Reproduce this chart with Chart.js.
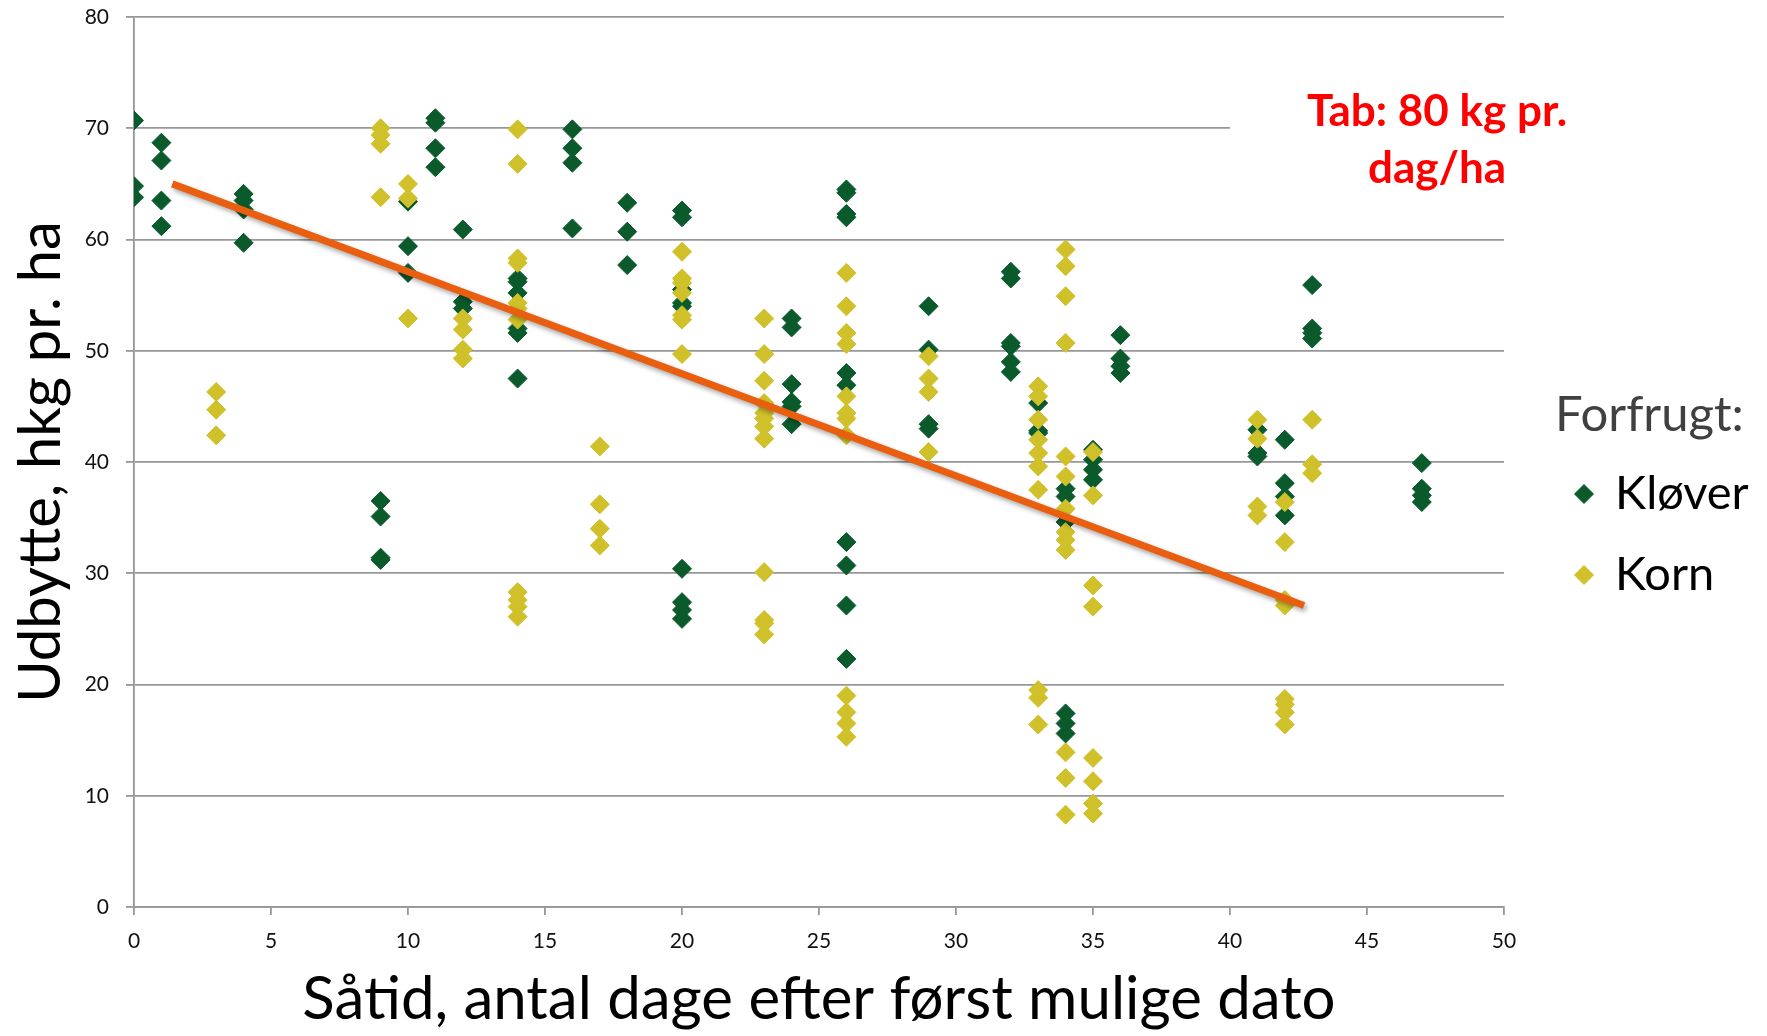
<!DOCTYPE html>
<html>
<head>
<meta charset="utf-8">
<script src="https://cdn.jsdelivr.net/npm/chart.js@4.4.0/dist/chart.umd.min.js"></script>
<style>
html, body { margin: 0; padding: 0; background: #ffffff; }
#wrap { width: 1767px; height: 1036px; position: relative; }
</style>
</head>
<body>
<div id="wrap"><canvas id="c" width="1767" height="1036"></canvas></div>
<script>
// ---------- DATA ----------
const seriesNames = ['Kløver', 'Korn'];

const kloverDays = [0, 1, 4, 9, 10, 11, 12, 14, 16, 18, 20, 24, 26, 29, 32, 33, 34, 35, 36, 41, 42, 43, 47];
const kloverYields = [
  [70.7, 64.8, 63.8],
  [68.7, 67.1, 63.5, 61.2],
  [64.1, 63.5, 62.7, 59.7],
  [36.5, 35.1, 31.4, 31.2],
  [63.4, 59.4, 57.0],
  [70.9, 70.5, 68.2, 66.5],
  [60.9, 54.4, 53.8],
  [56.5, 56.2, 55.2, 52.0, 51.6, 47.5],
  [69.9, 68.2, 66.9, 61.0],
  [63.3, 60.7, 57.7],
  [62.6, 62.0, 55.5, 54.3, 54.0, 30.4, 27.4, 26.7, 25.9],
  [52.9, 52.1, 47.0, 45.4, 45.0, 43.4],
  [64.5, 64.2, 62.3, 62.0, 48.0, 46.9, 32.8, 30.7, 27.1, 22.3],
  [54.0, 50.1, 43.4, 43.0],
  [57.1, 56.5, 50.7, 50.4, 49.0, 48.1],
  [45.3, 42.8, 42.6],
  [37.6, 36.9, 34.6, 17.4, 16.5, 15.6],
  [41.1, 40.2, 39.3, 38.4],
  [51.4, 49.3, 48.6, 48.0],
  [42.9, 40.8, 40.5],
  [42.0, 38.1, 36.9, 35.2],
  [55.9, 52.0, 51.6, 51.1],
  [39.9, 37.6, 37.0, 36.4]
];

const kornDays = [3, 9, 10, 12, 14, 17, 20, 23, 26, 29, 33, 34, 35, 41, 42, 43];
const kornYields = [
  [46.3, 44.7, 42.4],
  [70.0, 69.4, 68.6, 63.8],
  [65.0, 63.7, 52.9],
  [52.9, 51.9, 50.1, 49.3],
  [69.9, 66.8, 58.3, 57.9, 54.3, 53.8, 52.8, 28.3, 27.6, 27.0, 26.1],
  [41.4, 36.2, 34.0, 32.5],
  [58.9, 56.5, 56.1, 55.2, 53.2, 52.8, 49.7],
  [52.9, 49.7, 47.3, 45.3, 44.4, 43.9, 43.2, 42.1, 30.1, 25.8, 25.5, 24.5],
  [57.0, 54.0, 51.6, 50.6, 45.9, 44.4, 43.9, 42.4, 19.0, 17.5, 16.5, 15.3],
  [49.5, 47.5, 46.3, 40.9],
  [46.8, 45.9, 43.8, 42.0, 40.8, 39.6, 37.5, 19.5, 18.8, 16.4],
  [59.1, 57.6, 54.9, 50.7, 40.5, 38.7, 35.8, 33.7, 33.0, 32.1, 13.9, 11.6, 8.3],
  [40.9, 37.0, 28.9, 27.0, 13.4, 11.3, 9.3, 8.4],
  [43.8, 42.1, 36.0, 35.2],
  [36.4, 32.8, 27.6, 27.1, 18.7, 18.2, 17.5, 16.4],
  [43.8, 39.8, 39.0]
];

const trendDays = [1.4, 42.7];
const trendYields = [65.0, 27.1];

const xTickValues = [0, 5, 10, 15, 20, 25, 30, 35, 40, 45, 50];
const yTickValues = [0, 10, 20, 30, 40, 50, 60, 70, 80];

const xAxisTitle = 'Såtid, antal dage efter først mulige dato';
const yAxisTitle = 'Udbytte, hkg pr. ha';
const legendTitle = 'Forfrugt:';
const annotationLines = ['Tab: 80 kg pr.', 'dag/ha'];

// ---------- STYLE ----------
const GREEN = '#0a5a2c';
const YELLOW = '#d0c02a';
const ORANGE = '#e95e0f';
const GRID = '#979797';
const FONT = 'Lato';

function toPoints(days, yields) {
  const pts = [];
  days.forEach((d, i) => yields[i].forEach(v => pts.push({ x: d, y: v })));
  return pts;
}

Chart.defaults.font.family = FONT;

const trendShadow = {
  id: 'trendShadow',
  beforeDatasetDraw(chart, args) {
    if (args.index === 0) {
      const ctx = chart.ctx;
      ctx.save();
      ctx.shadowColor = 'rgba(0,0,0,0.35)';
      ctx.shadowBlur = 5;
      ctx.shadowOffsetX = 2;
      ctx.shadowOffsetY = 3;
    }
  },
  afterDatasetDraw(chart, args) {
    if (args.index === 0) chart.ctx.restore();
  }
};

const extras = {
  id: 'extras',
  afterDraw(chart) {
    const ctx = chart.ctx;
    const xs = chart.scales.x;
    ctx.save();
    // annotation box (white background covering grid line)
    const boxLeft = xs.getPixelForValue(40);
    ctx.fillStyle = '#ffffff';
    ctx.fillRect(boxLeft, 70, 430, 130);
    ctx.fillStyle = '#ff0000';
    ctx.font = 'bold 44px ' + FONT;
    ctx.textAlign = 'center';
    ctx.textBaseline = 'alphabetic';
    ctx.fillText(annotationLines[0], 1437, 126);
    ctx.fillText(annotationLines[1], 1437, 183);

    // legend
    ctx.textAlign = 'left';
    ctx.font = '49px ' + FONT;
    ctx.fillStyle = '#404040';
    ctx.fillText(legendTitle, 1555, 431);
    ctx.font = '47px ' + FONT;
    const colors = [GREEN, YELLOW];
    const ys = [494, 575];
    seriesNames.forEach((name, i) => {
      ctx.fillStyle = colors[i];
      ctx.strokeStyle = colors[i];
      ctx.lineWidth = 1;
      Chart.helpers.drawPoint(ctx, { pointStyle: 'rectRot', radius: 9.5, rotation: 0, borderWidth: 1 }, 1584, ys[i]);
      ctx.fillStyle = '#000000';
      ctx.fillText(name, 1615, ys[i] + 15);
    });
    ctx.restore();
  }
};

new Chart(document.getElementById('c'), {
  type: 'scatter',
  data: {
    datasets: [
      {
        type: 'line',
        label: 'Trend',
        data: trendDays.map((d, i) => ({ x: d, y: trendYields[i] })),
        borderColor: ORANGE,
        borderWidth: 7,
        pointRadius: 0,
        fill: false,
        order: 0
      },
      {
        label: seriesNames[1],
        data: toPoints(kornDays, kornYields),
        pointStyle: 'rectRot',
        pointRadius: 9.5,
        pointHoverRadius: 9.5,
        backgroundColor: YELLOW,
        borderColor: YELLOW,
        borderWidth: 1,
        order: 1
      },
      {
        label: seriesNames[0],
        data: toPoints(kloverDays, kloverYields),
        pointStyle: 'rectRot',
        pointRadius: 9.5,
        pointHoverRadius: 9.5,
        backgroundColor: GREEN,
        borderColor: GREEN,
        borderWidth: 1,
        order: 2
      }
    ]
  },
  options: {
    responsive: false,
    animation: false,
    events: [],
    layout: { autoPadding: false, padding: { left: 0, right: 263, top: 17, bottom: 0 } },
    plugins: {
      legend: { display: false },
      tooltip: { enabled: false }
    },
    scales: {
      x: {
        type: 'linear',
        min: 0,
        max: 50,
        afterBuildTicks: s => { s.ticks = xTickValues.map(v => ({ value: v })); },
        afterFit: s => { s.height = 129; s.paddingLeft = 0; s.paddingRight = 0; },
        grid: { drawOnChartArea: false, drawTicks: true, tickLength: 8, color: GRID, lineWidth: 1.8 },
        border: { display: true, color: GRID, width: 1.8 },
        ticks: { color: '#111111', font: { size: 21 }, padding: 14, maxRotation: 0 },
        title: { display: true, text: xAxisTitle, color: '#000000', font: { size: 60 }, padding: { top: 0, bottom: 0 } }
      },
      y: {
        type: 'linear',
        min: 0,
        max: 80,
        afterBuildTicks: s => { s.ticks = yTickValues.map(v => ({ value: v })); },
        afterFit: s => { s.width = 134; s.paddingTop = 0; s.paddingBottom = 0; },
        grid: { drawOnChartArea: true, drawTicks: true, tickLength: 8, color: GRID, lineWidth: 1.8 },
        border: { display: true, color: GRID, width: 1.8 },
        ticks: { color: '#111111', font: { size: 21 }, padding: 17 },
        title: { display: true, text: yAxisTitle, color: '#000000', font: { size: 58 }, padding: { top: 6, bottom: 0 } }
      }
    }
  },
  plugins: [trendShadow, extras]
});
</script>
</body>
</html>
